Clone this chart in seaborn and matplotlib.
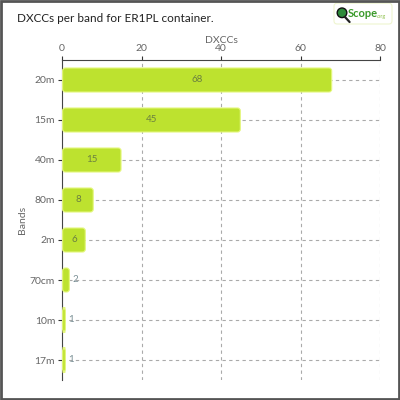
import matplotlib
matplotlib.use('Agg')
import matplotlib.pyplot as plt
from matplotlib.patches import FancyBboxPatch, Rectangle, Circle
from matplotlib.lines import Line2D
import pandas as pd
import seaborn as sns

bands = ['20m', '15m', '40m', '80m', '2m', '70cm', '10m', '17m']
dxccs = [68, 45, 15, 8, 6, 2, 1, 1]
xticks = [0, 20, 40, 60, 80]

df = pd.DataFrame({'Bands': bands, 'DXCCs': dxccs})

sns.set_style('white')
plt.rcParams['font.family'] = ['Lato', 'DejaVu Sans']

fig = plt.figure(figsize=(4, 4), dpi=100)
ax = fig.add_axes([0.155, 0.05, 0.795, 0.80])

sns.barplot(data=df, x='DXCCs', y='Bands', color='#bde22f', width=0.6,
            saturation=1, ax=ax, zorder=3)

# swap plain bars for rounded ones
for p in list(ax.patches):
    x, y = p.get_x(), p.get_y()
    w, h = p.get_width(), p.get_height()
    p.remove()
    r = FancyBboxPatch((x + 0.15, y), max(w - 0.3, 0.01), h,
                       boxstyle='round,pad=0,rounding_size=0.7',
                       mutation_aspect=0.1, fc='#bde22f', ec='#e4f77c',
                       lw=0.8, zorder=3)
    ax.add_patch(r)

for i, v in enumerate(dxccs):
    if v > 3:
        ax.text(v / 2, i, str(v), ha='center', va='center', fontsize=7,
                color='#6b8040', zorder=4)
    else:
        ax.text(v + 0.6, i, str(v), ha='left', va='center', fontsize=7,
                color='#7a8f95', zorder=4)

ax.set_xlim(0, 80)
ax.set_ylim(7.5, -0.5)
ax.set_xticks(xticks)
ax.xaxis.tick_top()
ax.xaxis.set_label_position('top')
ax.set_xlabel('DXCCs', fontsize=7.5, color='#666666', labelpad=1)
ax.set_ylabel('Bands', fontsize=7.5, color='#666666', labelpad=2)
ax.tick_params(axis='both', labelsize=7.5, colors='#666666', length=3,
               width=0.8, pad=2, top=True, left=True)
ax.tick_params(axis='both', colors='#333333', labelcolor='#666666')
ax.grid(True, ls=(0, (3, 3)), color='#aaaaaa', lw=0.8, zorder=0)
for s in ['right', 'bottom']:
    ax.spines[s].set_visible(False)
ax.spines['top'].set_color('#444444')
ax.spines['left'].set_color('#444444')

fig.text(0.042, 0.955, 'DXCCs per band for ER1PL container.', fontsize=8.5,
         color='#222222', va='center')

# logo
fig.patches.append(FancyBboxPatch((0.835, 0.94), 0.145, 0.052,
                                  boxstyle='round,pad=0,rounding_size=0.008',
                                  transform=fig.transFigure,
                                  fc='white', ec='#eef5cf', lw=0.8))
fig.lines.append(Line2D([0.862, 0.874], [0.958, 0.945], transform=fig.transFigure,
                        color='#222222', lw=1.6))
fig.patches.append(Circle((0.855, 0.968), 0.012, transform=fig.transFigure,
                          fc='#2e8b3a', ec='#111111', lw=1))
fig.text(0.87, 0.966, 'Scope', fontsize=8, color='#3a9a2a', fontweight='bold',
         va='center')
fig.text(0.942, 0.958, '.org', fontsize=4, color='#8cc04a', va='center')

fig.patches.append(Rectangle((0.002, 0.002), 0.996, 0.996, transform=fig.transFigure,
                             fill=False, ec='#555555', lw=2))

fig.savefig('out.png', dpi=100)
